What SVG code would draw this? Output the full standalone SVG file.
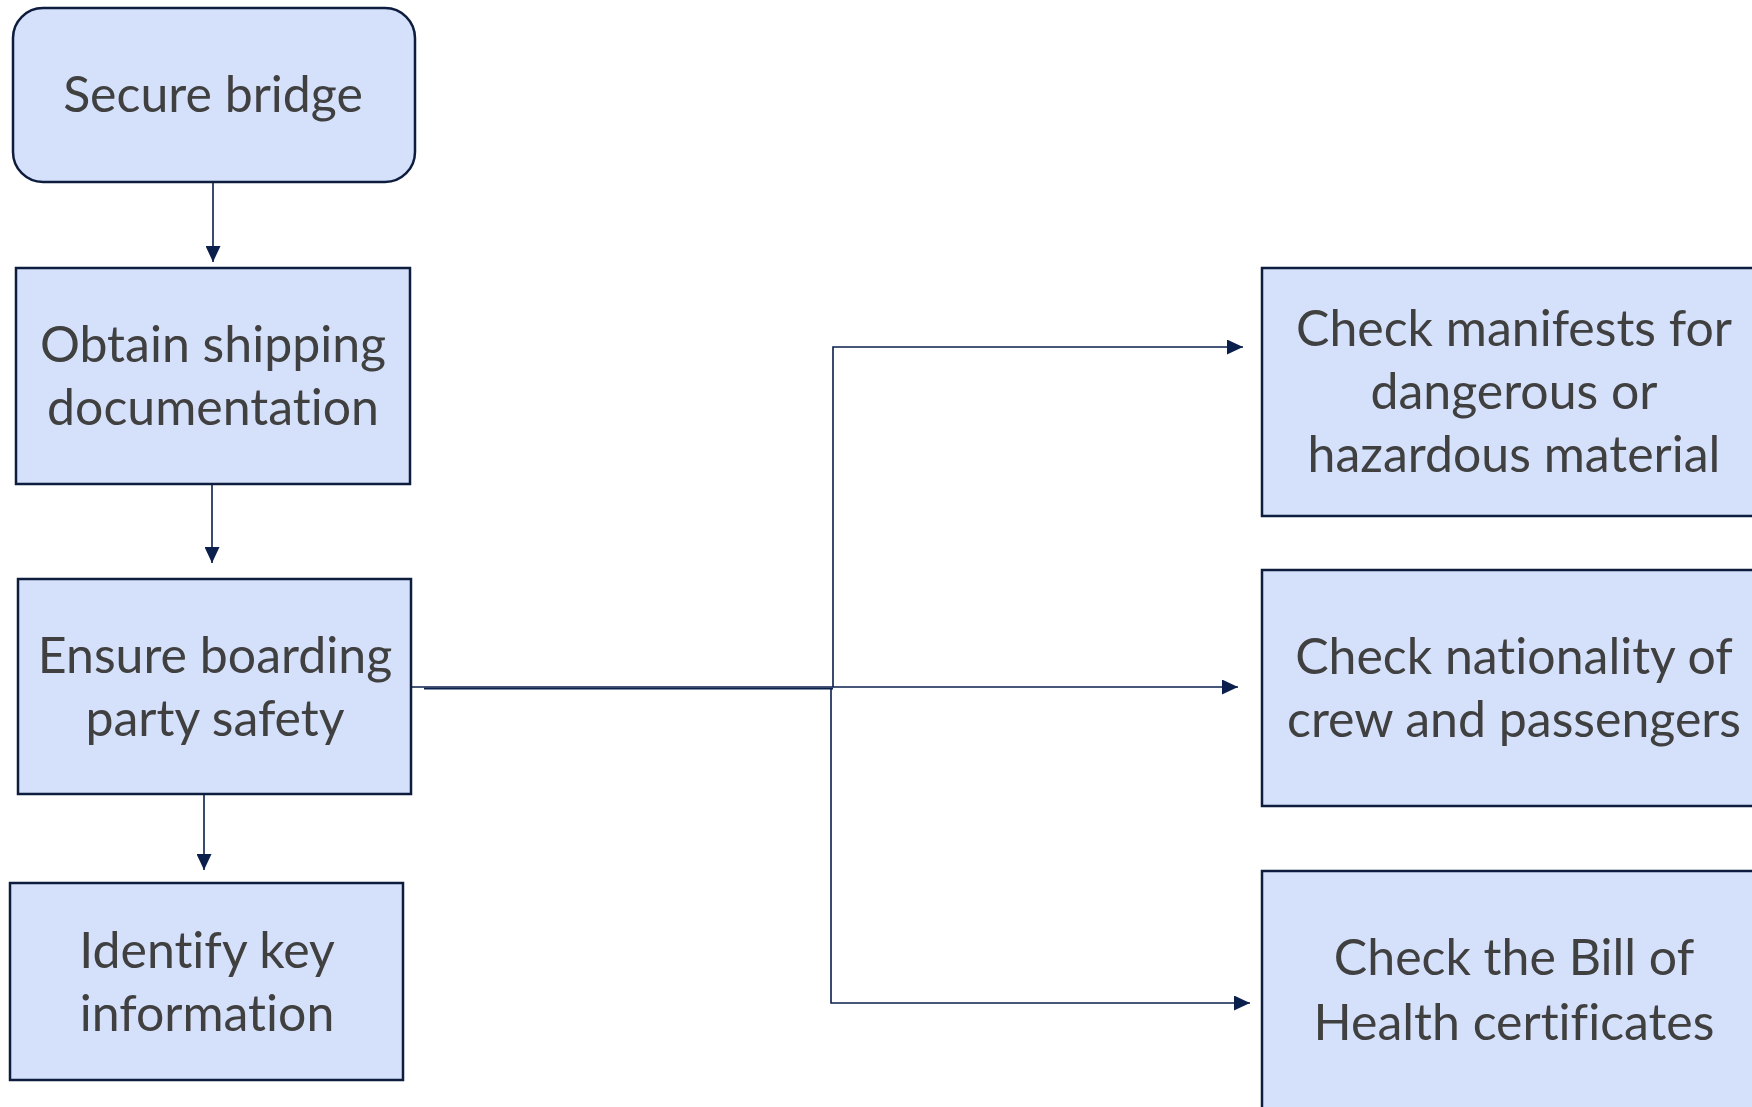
<svg xmlns="http://www.w3.org/2000/svg" width="1752" height="1107" viewBox="0 0 1752 1107">
<defs>
<style>
.box{fill:#d5e1fb;stroke:#0e1c3d;stroke-width:2.5}
.lbl{font-family:Lato,"Open Sans",sans-serif;font-size:50px;fill:#404040;text-anchor:middle;font-variant-ligatures:none}
.con{fill:none;stroke:#0b1f4d;stroke-width:1.6}
</style>
<marker id="ah" viewBox="0 0 16 15" refX="16" refY="7.5" markerWidth="16" markerHeight="15" markerUnits="userSpaceOnUse" orient="auto">
<path d="M0,0 L16,7.5 L0,15 Z" fill="#0b1f4d"/>
</marker>
</defs>
<rect width="1752" height="1107" fill="#ffffff"/>
<g id="connectors">
<line class="con" x1="213" y1="183" x2="213" y2="262" marker-end="url(#ah)"/>
<line class="con" x1="212" y1="485" x2="212" y2="563" marker-end="url(#ah)"/>
<line class="con" x1="204" y1="795" x2="204" y2="870" marker-end="url(#ah)"/>
<line class="con" x1="412" y1="687" x2="833" y2="687"/>
<line class="con" x1="424" y1="688.6" x2="833" y2="688.6"/>
<polyline class="con" points="833,687 833,347 1243,347" marker-end="url(#ah)"/>
<line class="con" x1="833" y1="687" x2="1238" y2="687" marker-end="url(#ah)"/>
<polyline class="con" points="831,688 831,1003 1250,1003" marker-end="url(#ah)"/>
</g>
<g id="n1">
<rect class="box" x="13" y="8" width="402" height="174" rx="30" ry="30"/>
<text class="lbl" x="213" y="112">Secure bridge</text>
</g>
<g id="n2">
<rect class="box" x="16" y="268" width="394" height="216"/>
<text class="lbl" x="213" y="362">Obtain shipping</text>
<text class="lbl" x="213" y="425">documentation</text>
</g>
<g id="n3">
<rect class="box" x="18" y="579" width="393" height="215"/>
<text class="lbl" x="215" y="673">Ensure boarding</text>
<text class="lbl" x="215" y="736">party safety</text>
</g>
<g id="n4">
<rect class="box" x="10" y="883" width="393" height="197"/>
<text class="lbl" x="207" y="968">Identify key</text>
<text class="lbl" x="207" y="1031">information</text>
</g>
<g id="n5">
<rect class="box" x="1262" y="268" width="506" height="248"/>
<text class="lbl" x="1514" y="346">Check manifests for</text>
<text class="lbl" x="1514" y="409">dangerous or</text>
<text class="lbl" x="1514" y="472">hazardous material</text>
</g>
<g id="n6">
<rect class="box" x="1262" y="570" width="506" height="236"/>
<text class="lbl" x="1514" y="674">Check nationality of</text>
<text class="lbl" x="1514" y="737">crew and passengers</text>
</g>
<g id="n7">
<rect class="box" x="1262" y="871" width="506" height="260"/>
<text class="lbl" x="1514" y="975">Check the Bill of</text>
<text class="lbl" x="1514" y="1040">Health certificates</text>
</g>
</svg>
